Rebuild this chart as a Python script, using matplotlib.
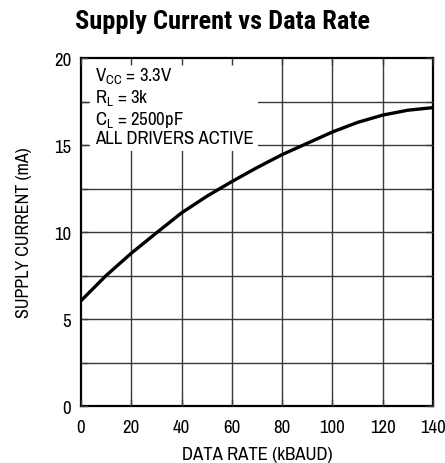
import matplotlib
matplotlib.use("Agg")
import matplotlib.pyplot as plt

# ---- data ----
data_rate = [0, 10, 20, 30, 40, 50, 60, 70, 80, 90, 100, 110, 120, 130, 140]
supply_current = [6.05, 7.5, 8.78, 9.95, 11.1, 12.05, 12.9, 13.7, 14.45, 15.1, 15.75, 16.3, 16.72, 17.0, 17.15]
x_ticks = [0, 20, 40, 60, 80, 100, 120, 140]
y_ticks = [0, 5, 10, 15, 20]
y_minor = [2.5, 7.5, 12.5, 17.5]
title = "Supply Current vs Data Rate"
xlabel = "DATA RATE (kBAUD)"
ylabel = "SUPPLY CURRENT (mA)"
notes = [r"V$_{\mathregular{CC}}$ = 3.3V", r"R$_{\mathregular{L}}$ = 3k",
         r"C$_{\mathregular{L}}$ = 2500pF", "ALL DRIVERS ACTIVE"]

fam = ["Archivo Narrow", "DejaVu Sans"]
title_fam = ["Roboto Condensed", "Barlow Semi Condensed", "Asap Condensed", "DejaVu Sans"]
plt.rcParams["font.family"] = fam
plt.rcParams["mathtext.fontset"] = "custom"
plt.rcParams["mathtext.rm"] = "Archivo Narrow"
plt.rcParams["mathtext.it"] = "Archivo Narrow"

fig = plt.figure(figsize=(4.45, 4.64), dpi=100)
ax = fig.add_axes([0.182, 0.1228, 0.791, 0.75])
ax.set_xlim(0, 140)
ax.set_ylim(0, 20)

grid_kw = dict(color="#3a3a3a", linewidth=1.0, zorder=1)
for xv in x_ticks[1:-1]:
    ax.axvline(xv, **grid_kw)
for yv in y_ticks[1:-1] + y_minor:
    ax.axhline(yv, **grid_kw)

ax.set_xticks(x_ticks)
ax.set_yticks(y_ticks)
ax.set_yticks(y_minor, minor=True)
ax.set_xticks([], minor=True)
ax.tick_params(which="both", direction="in", length=5, width=1, color="#3a3a3a",
               top=True, right=True, labelsize=13.5)
ax.tick_params(axis="x", pad=9)
ax.tick_params(axis="y", pad=7)
ax.set_axisbelow(False)
for s in ax.spines.values():
    s.set_linewidth(1.6)

ax.text(5.5, 19.6, "\n".join(notes), fontsize=13.5, va="top", ha="left",
        linespacing=1.12, zorder=2,
        bbox=dict(boxstyle="square,pad=0.25", facecolor="white", edgecolor="none"))

ax.plot(data_rate, supply_current, color="black", linewidth=2.4, zorder=4,
        solid_capstyle="butt")

ax.set_xlabel(xlabel, fontsize=13.5, labelpad=8)
ax.set_ylabel(ylabel, fontsize=13, labelpad=16)
fig.text(0.5, 0.953, title, ha="center", va="center", fontsize=19,
         fontweight="bold", family=title_fam)

fig.savefig("out.png", dpi=100)
